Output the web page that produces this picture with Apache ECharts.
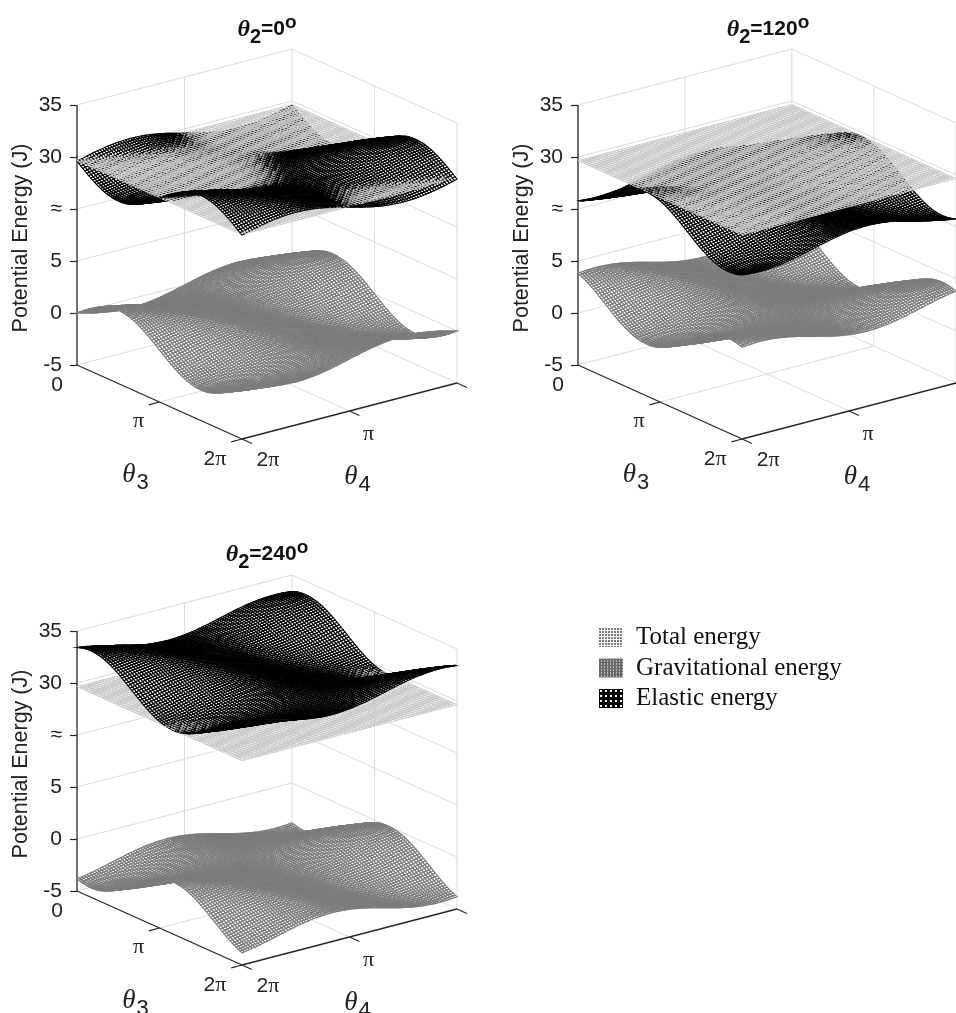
<!DOCTYPE html>
<html><head><meta charset="utf-8">
<style>html,body{margin:0;padding:0;background:#fff}#c{width:956px;height:1013px}</style>
<script src="https://cdn.jsdelivr.net/npm/echarts@6/dist/echarts.min.js"></script>
</head><body><div id="c"></div>
<script>
// Estimated energies (J). Rows: theta3 = 0..360 deg in 30 deg steps; columns: theta4 likewise.
const totalRow=[29.65,29.65,29.65,29.65,29.65,29.65,29.65,29.65,29.65,29.65,29.65,29.65,29.65];
const totalEnergy=[totalRow,totalRow,totalRow,totalRow,totalRow,totalRow,totalRow,totalRow,totalRow,totalRow,totalRow,totalRow,totalRow];
const gravity0=[
[0,.43,.74,.85,.74,.43,0,-.43,-.74,-.85,-.74,-.43,0],
[1.03,1.34,1.45,1.34,1.03,.6,.17,-.14,-.25,-.14,.17,.6,1.03],
[1.78,1.89,1.78,1.47,1.04,.61,.3,.19,.3,.61,1.04,1.47,1.78],
[2.05,1.94,1.63,1.2,.77,.46,.35,.46,.77,1.2,1.63,1.94,2.05],
[1.78,1.47,1.04,.61,.3,.19,.3,.61,1.04,1.47,1.78,1.89,1.78],
[1.03,.6,.17,-.14,-.25,-.14,.17,.6,1.03,1.34,1.45,1.34,1.03],
[0,-.43,-.74,-.85,-.74,-.43,0,.43,.74,.85,.74,.43,0],
[-1.03,-1.34,-1.45,-1.34,-1.03,-.6,-.17,.14,.25,.14,-.17,-.6,-1.03],
[-1.78,-1.89,-1.78,-1.47,-1.04,-.61,-.3,-.19,-.3,-.61,-1.04,-1.47,-1.78],
[-2.05,-1.94,-1.63,-1.2,-.77,-.46,-.35,-.46,-.77,-1.2,-1.63,-1.94,-2.05],
[-1.78,-1.47,-1.04,-.61,-.3,-.19,-.3,-.61,-1.04,-1.47,-1.78,-1.89,-1.78],
[-1.03,-.6,-.17,.14,.25,.14,-.17,-.6,-1.03,-1.34,-1.45,-1.34,-1.03],
[0,.43,.74,.85,.74,.43,0,-.43,-.74,-.85,-.74,-.43,0]];
const elastic0=[
[29.6,29.17,28.86,28.75,28.86,29.17,29.6,30.03,30.34,30.45,30.34,30.03,29.6],
[28.57,28.26,28.15,28.26,28.57,29,29.43,29.74,29.85,29.74,29.43,29,28.57],
[27.82,27.71,27.82,28.13,28.56,28.99,29.3,29.41,29.3,28.99,28.56,28.13,27.82],
[27.55,27.66,27.97,28.4,28.83,29.14,29.25,29.14,28.83,28.4,27.97,27.66,27.55],
[27.82,28.13,28.56,28.99,29.3,29.41,29.3,28.99,28.56,28.13,27.82,27.71,27.82],
[28.57,29,29.43,29.74,29.85,29.74,29.43,29,28.57,28.26,28.15,28.26,28.57],
[29.6,30.03,30.34,30.45,30.34,30.03,29.6,29.17,28.86,28.75,28.86,29.17,29.6],
[30.63,30.94,31.05,30.94,30.63,30.2,29.77,29.46,29.35,29.46,29.77,30.2,30.63],
[31.38,31.49,31.38,31.07,30.64,30.21,29.9,29.79,29.9,30.21,30.64,31.07,31.38],
[31.65,31.54,31.23,30.8,30.37,30.06,29.95,30.06,30.37,30.8,31.23,31.54,31.65],
[31.38,31.07,30.64,30.21,29.9,29.79,29.9,30.21,30.64,31.07,31.38,31.49,31.38],
[30.63,30.2,29.77,29.46,29.35,29.46,29.77,30.2,30.63,30.94,31.05,30.94,30.63],
[29.6,29.17,28.86,28.75,28.86,29.17,29.6,30.03,30.34,30.45,30.34,30.03,29.6]];
const gravity120=[
[3.82,3.51,3.08,2.65,2.34,2.23,2.34,2.65,3.08,3.51,3.82,3.93,3.82],
[3.07,2.64,2.21,1.9,1.79,1.9,2.21,2.64,3.07,3.38,3.49,3.38,3.07],
[2.04,1.61,1.3,1.19,1.3,1.61,2.04,2.47,2.78,2.89,2.78,2.47,2.04],
[1.01,.7,.59,.7,1.01,1.44,1.87,2.18,2.29,2.18,1.87,1.44,1.01],
[.26,.15,.26,.57,1,1.43,1.74,1.85,1.74,1.43,1,.57,.26],
[-.01,.1,.41,.84,1.27,1.58,1.69,1.58,1.27,.84,.41,.1,-.01],
[.26,.57,1,1.43,1.74,1.85,1.74,1.43,1,.57,.26,.15,.26],
[1.01,1.44,1.87,2.18,2.29,2.18,1.87,1.44,1.01,.7,.59,.7,1.01],
[2.04,2.47,2.78,2.89,2.78,2.47,2.04,1.61,1.3,1.19,1.3,1.61,2.04],
[3.07,3.38,3.49,3.38,3.07,2.64,2.21,1.9,1.79,1.9,2.21,2.64,3.07],
[3.82,3.93,3.82,3.51,3.08,2.65,2.34,2.23,2.34,2.65,3.08,3.51,3.82],
[4.09,3.98,3.67,3.24,2.81,2.5,2.39,2.5,2.81,3.24,3.67,3.98,4.09],
[3.82,3.51,3.08,2.65,2.34,2.23,2.34,2.65,3.08,3.51,3.82,3.93,3.82]];
const elastic120=[
[25.78,26.09,26.52,26.95,27.26,27.37,27.26,26.95,26.52,26.09,25.78,25.67,25.78],
[26.53,26.96,27.39,27.7,27.81,27.7,27.39,26.96,26.53,26.22,26.11,26.22,26.53],
[27.56,27.99,28.3,28.41,28.3,27.99,27.56,27.13,26.82,26.71,26.82,27.13,27.56],
[28.59,28.9,29.01,28.9,28.59,28.16,27.73,27.42,27.31,27.42,27.73,28.16,28.59],
[29.34,29.45,29.34,29.03,28.6,28.17,27.86,27.75,27.86,28.17,28.6,29.03,29.34],
[29.61,29.5,29.19,28.76,28.33,28.02,27.91,28.02,28.33,28.76,29.19,29.5,29.61],
[29.34,29.03,28.6,28.17,27.86,27.75,27.86,28.17,28.6,29.03,29.34,29.45,29.34],
[28.59,28.16,27.73,27.42,27.31,27.42,27.73,28.16,28.59,28.9,29.01,28.9,28.59],
[27.56,27.13,26.82,26.71,26.82,27.13,27.56,27.99,28.3,28.41,28.3,27.99,27.56],
[26.53,26.22,26.11,26.22,26.53,26.96,27.39,27.7,27.81,27.7,27.39,26.96,26.53],
[25.78,25.67,25.78,26.09,26.52,26.95,27.26,27.37,27.26,26.95,26.52,26.09,25.78],
[25.51,25.62,25.93,26.36,26.79,27.1,27.21,27.1,26.79,26.36,25.93,25.62,25.51],
[25.78,26.09,26.52,26.95,27.26,27.37,27.26,26.95,26.52,26.09,25.78,25.67,25.78]];
const gravity240=[
[-3.82,-3.93,-3.82,-3.51,-3.08,-2.65,-2.34,-2.23,-2.34,-2.65,-3.08,-3.51,-3.82],
[-4.09,-3.98,-3.67,-3.24,-2.81,-2.5,-2.39,-2.5,-2.81,-3.24,-3.67,-3.98,-4.09],
[-3.82,-3.51,-3.08,-2.65,-2.34,-2.23,-2.34,-2.65,-3.08,-3.51,-3.82,-3.93,-3.82],
[-3.07,-2.64,-2.21,-1.9,-1.79,-1.9,-2.21,-2.64,-3.07,-3.38,-3.49,-3.38,-3.07],
[-2.04,-1.61,-1.3,-1.19,-1.3,-1.61,-2.04,-2.47,-2.78,-2.89,-2.78,-2.47,-2.04],
[-1.01,-.7,-.59,-.7,-1.01,-1.44,-1.87,-2.18,-2.29,-2.18,-1.87,-1.44,-1.01],
[-.26,-.15,-.26,-.57,-1,-1.43,-1.74,-1.85,-1.74,-1.43,-1,-.57,-.26],
[.01,-.1,-.41,-.84,-1.27,-1.58,-1.69,-1.58,-1.27,-.84,-.41,-.1,.01],
[-.26,-.57,-1,-1.43,-1.74,-1.85,-1.74,-1.43,-1,-.57,-.26,-.15,-.26],
[-1.01,-1.44,-1.87,-2.18,-2.29,-2.18,-1.87,-1.44,-1.01,-.7,-.59,-.7,-1.01],
[-2.04,-2.47,-2.78,-2.89,-2.78,-2.47,-2.04,-1.61,-1.3,-1.19,-1.3,-1.61,-2.04],
[-3.07,-3.38,-3.49,-3.38,-3.07,-2.64,-2.21,-1.9,-1.79,-1.9,-2.21,-2.64,-3.07],
[-3.82,-3.93,-3.82,-3.51,-3.08,-2.65,-2.34,-2.23,-2.34,-2.65,-3.08,-3.51,-3.82]];
const elastic240=[
[33.42,33.53,33.42,33.11,32.68,32.25,31.94,31.83,31.94,32.25,32.68,33.11,33.42],
[33.69,33.58,33.27,32.84,32.41,32.1,31.99,32.1,32.41,32.84,33.27,33.58,33.69],
[33.42,33.11,32.68,32.25,31.94,31.83,31.94,32.25,32.68,33.11,33.42,33.53,33.42],
[32.67,32.24,31.81,31.5,31.39,31.5,31.81,32.24,32.67,32.98,33.09,32.98,32.67],
[31.64,31.21,30.9,30.79,30.9,31.21,31.64,32.07,32.38,32.49,32.38,32.07,31.64],
[30.61,30.3,30.19,30.3,30.61,31.04,31.47,31.78,31.89,31.78,31.47,31.04,30.61],
[29.86,29.75,29.86,30.17,30.6,31.03,31.34,31.45,31.34,31.03,30.6,30.17,29.86],
[29.59,29.7,30.01,30.44,30.87,31.18,31.29,31.18,30.87,30.44,30.01,29.7,29.59],
[29.86,30.17,30.6,31.03,31.34,31.45,31.34,31.03,30.6,30.17,29.86,29.75,29.86],
[30.61,31.04,31.47,31.78,31.89,31.78,31.47,31.04,30.61,30.3,30.19,30.3,30.61],
[31.64,32.07,32.38,32.49,32.38,32.07,31.64,31.21,30.9,30.79,30.9,31.21,31.64],
[32.67,32.98,33.09,32.98,32.67,32.24,31.81,31.5,31.39,31.5,31.81,32.24,32.67],
[33.42,33.53,33.42,33.11,32.68,32.25,31.94,31.83,31.94,32.25,32.68,33.11,33.42]];

const panelTitles=['0','120','240'];
const zTicks=[-5,0,5,10,15,20];
const zTickLabels=['-5','0','5','≈','30','35'];
const seriesNames=['Total energy','Gravitational energy','Elastic energy'];

// Layout & styles
const panels=[
 {left:77,top:49,titleX:267,titleY:12,grav:gravity0,el:elastic0},
 {left:578,top:49,titleX:768,titleY:12,grav:gravity120,el:elastic120},
 {left:77,top:575,titleX:267,titleY:537,grav:gravity240,el:elastic240}];
const SANS='"Liberation Sans",Arial,sans-serif', SERIF='"Liberation Serif","Times New Roman",serif';
const styles={
 total:{fill:'none',stroke:'#c9c9c9',lineWidth:.95},
 grav:{fill:'#fff',stroke:'#7c7c7c',lineWidth:1.15},
 el:{fill:'#fff',stroke:'#000',lineWidth:1.1}};

// Broken z axis: values above the break are shifted down so 25 J sits at tick "≈".
const brk=e=>e>=10?e-15:e;
// Oblique view of the box, expressed in axis units.
const view=(s,t,zd)=>[.4342*s+.5658*t, zd-7.115*s+5.385*t];

// Smooth mesh through the read grid (periodic), for display.
function cr(a,b,c,d,x){return .5*(2*b+(c-a)*x+(2*a-5*b+4*c-d)*x*x+(3*b-a-3*c+d)*x*x*x);}
function refine(g,SUB){
 const n=12,m=n*SUB+1,at=(i)=>((i%n)+n)%n;
 const out=[];
 for(let I=0;I<m;I++){
  const i0=Math.min(Math.floor(I/SUB),n-1),fi=I/SUB-i0,row=[];
  for(let J=0;J<m;J++){
   const j0=Math.min(Math.floor(J/SUB),n-1),fj=J/SUB-j0,v=[];
   for(let k=-1;k<=2;k++){
    const r=g[at(i0+k)];
    v.push(cr(r[at(j0-1)],r[at(j0)],r[at(j0+1)],r[at(j0+2)],fj));
   }
   row.push(cr(v[0],v[1],v[2],v[3],fi));
  }
  out.push(row);
 }
 return out;
}
function cellList(SUB){const a=[],m=12*SUB;for(let i=0;i<m;i++)for(let j=0;j<m;j++)a.push([i,j]);return a;}

function surfaceSeries(name,g,style,idx,SUB){
 const f=refine(g,SUB),m=12*SUB;
 return {name,type:'custom',xAxisIndex:idx,yAxisIndex:idx,silent:true,animation:false,progressive:0,clip:false,z:3,
  encode:{x:-1,y:-1},tooltip:{show:false},data:cellList(SUB),
  renderItem(p,api){
   const i=api.value(0),j=api.value(1);
   const P=(a,b)=>api.coord(view(a/m,1-b/m,brk(f[a][b])));
   const mean=(f[i][j]+f[i+1][j]+f[i][j+1]+f[i+1][j+1])/4;
   const near=(i+.5)/m+.9*(1-(j+.5)/m)+.02*brk(mean);
   return {type:'polygon',z2:near*1000,silent:true,
    shape:{points:[P(i,j),P(i+1,j),P(i+1,j+1),P(i,j+1)]},style};
  }};
}

function frameSeries(idx){
 return {name:'frame',type:'custom',xAxisIndex:idx,yAxisIndex:idx,silent:true,animation:false,clip:false,z:1,
  encode:{x:-1,y:-1},data:[[0,0]],
  renderItem(p,api){
   const C=(s,t,z)=>api.coord(view(s,t,z));
   const kids=[];
   const ln=(a,b,stroke,w)=>kids.push({type:'line',shape:{x1:a[0],y1:a[1],x2:b[0],y2:b[1]},style:{stroke,lineWidth:w},silent:true});
   const G='#dcdcdc',D='#262626',lo=zTicks[0],hi=zTicks[zTicks.length-1];
   zTicks.forEach(z=>{ln(C(0,0,z),C(0,1,z),G,1);ln(C(0,1,z),C(1,1,z),G,1);});
   [.5,1].forEach(t=>ln(C(0,t,lo),C(0,t,hi),G,1));
   [.5,1].forEach(s=>ln(C(s,1,lo),C(s,1,hi),G,1));
   ln(C(.5,0,lo),C(.5,1,lo),G,1);ln(C(0,.5,lo),C(1,.5,lo),G,1);
   ln(C(0,0,lo),C(0,0,hi),D,1.3);
   ln(C(0,0,lo),C(1,0,lo),D,1.3);ln(C(1,0,lo),C(1,1,lo),D,1.3);
   [.5,1].forEach(s=>ln(C(s,0,lo),C(s,-.05,lo),D,1.2));
   [0,.5,1].forEach(t=>ln(C(1,t,lo),C(1.06,t,lo),D,1.2));
   const txt=(pt,dx,dy,text,rich)=>kids.push({type:'text',x:pt[0]+dx,y:pt[1]+dy,silent:true,
     style:{text,rich,align:'center',verticalAlign:'middle',fill:'#222',fontFamily:SANS,fontSize:21}});
   const R={n:{fontFamily:SANS,fontSize:21,fill:'#222'},p:{fontFamily:SERIF,fontSize:22,fill:'#222'},
     t:{fontFamily:SERIF,fontStyle:'italic',fontSize:27,fill:'#222'},
     s:{fontFamily:SANS,fontSize:22,fill:'#222',padding:[16,0,0,1]}};
   txt(C(0,0,lo),-20,20,'{n|0}',R);
   txt(C(.5,0,lo),-21,19,'{p|π}',R);
   txt(C(1,0,lo),-27,20,'{n|2}{p|π}',R);
   txt(C(1,0,lo),26,21,'{n|2}{p|π}',R);
   txt(C(1,.5,lo),19,23,'{p|π}',R);
   txt(C(.5,0,lo),-24,73,'{t|θ}{s|3}',R);
   txt(C(1,.5,lo),8,66,'{t|θ}{s|4}',R);
   return {type:'group',children:kids};
  }};
}

// Legend swatch patterns
function pat(bg,fg,size,draw){const c=document.createElement('canvas');c.width=c.height=size;const x=c.getContext('2d');
 x.fillStyle=bg;x.fillRect(0,0,size,size);x.fillStyle=fg;draw(x);return {image:c,repeat:'repeat'};}
const legendPats=[
 pat('#fff','#7a7a7a',3,x=>{x.fillRect(0,0,2,2);}),
 pat('#fff','#6a6a6a',3,x=>{x.fillRect(0,0,3,2);x.fillRect(0,0,2,3);}),
 pat('#000','#fff',5,x=>{x.fillRect(1,1,2,2);})];

const option={animation:false,backgroundColor:'#fff',
 title:panels.map((p,k)=>({text:'{t|θ}{s|2}{b|='+panelTitles[k]+'}{o|o}',left:p.titleX,top:p.titleY,textAlign:'center',padding:0,
   textStyle:{rich:{
    t:{fontFamily:SERIF,fontStyle:'italic',fontWeight:'bold',fontSize:24,color:'#111'},
    s:{fontFamily:SANS,fontWeight:'bold',fontSize:20,color:'#111',padding:[15,0,0,0]},
    b:{fontFamily:SANS,fontWeight:'bold',fontSize:21,color:'#111'},
    o:{fontFamily:SANS,fontWeight:'bold',fontSize:19,color:'#111',padding:[0,0,13,0]}}}})),
 grid:panels.map(p=>({left:p.left,top:p.top,width:380,height:390,show:false,containLabel:false})),
 xAxis:panels.map((p,k)=>({gridIndex:k,type:'value',min:0,max:1,show:false})),
 yAxis:panels.map((p,k)=>({gridIndex:k,type:'value',min:-12.115,max:25.385,position:'left',
   name:'Potential Energy (J)',nameLocation:'middle',nameGap:45,nameRotate:90,
   nameTextStyle:{fontFamily:SANS,fontSize:21.5,color:'#222',padding:[0,0,0,12]},
   splitLine:{show:false},axisLine:{show:false},
   axisTick:{show:true,length:7,customValues:zTicks,lineStyle:{color:'#262626',width:1.2}},
   axisLabel:{show:true,customValues:zTicks,margin:15,fontFamily:SANS,fontSize:21,color:'#222',padding:[0,0,7,0],
     formatter:v=>zTickLabels[zTicks.indexOf(Math.round(v))]}})),
 legend:{left:599,top:625,padding:0,orient:'vertical',itemWidth:24,itemHeight:19,itemGap:5.5,selectedMode:false,
   textStyle:{fontFamily:SERIF,fontSize:25,color:'#111',padding:[0,0,0,8]},
   data:seriesNames.map((name,k)=>({name,icon:'rect',itemStyle:{color:legendPats[k],borderWidth:0}}))},
 series:[]};
panels.forEach((p,k)=>{
 option.series.push(frameSeries(k));
 option.series.push(surfaceSeries(seriesNames[0],totalEnergy,styles.total,k,5));
 option.series.push(surfaceSeries(seriesNames[1],p.grav,styles.grav,k,7));
 option.series.push(surfaceSeries(seriesNames[2],p.el,styles.el,k,7));
});
echarts.init(document.getElementById('c'),null,{renderer:'canvas'}).setOption(option);
</script></body></html>
